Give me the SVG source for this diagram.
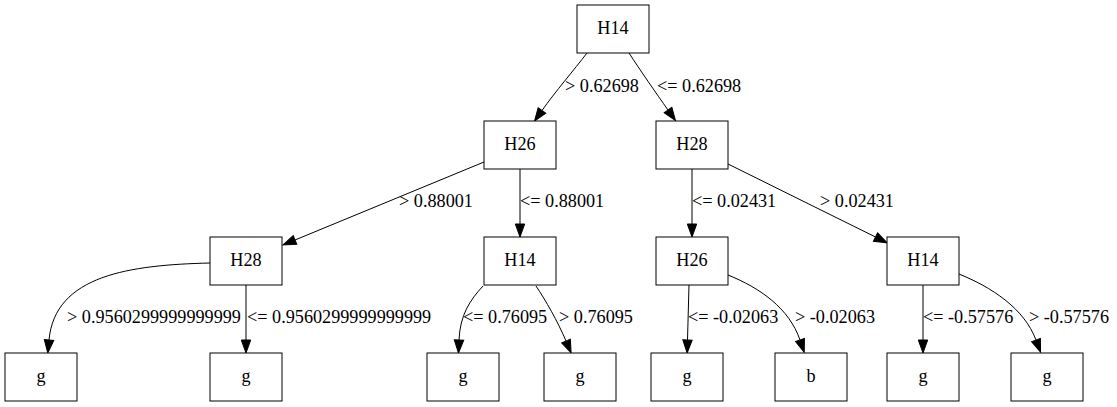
<svg xmlns="http://www.w3.org/2000/svg" width="1117" height="407" viewBox="0 0 1117 407">
<style>
.n rect{fill:#fff;stroke:#000;stroke-width:1}
text{font-family:'Liberation Serif','Times New Roman',Times,serif;font-size:18.2px;fill:#000}
.n text{text-anchor:middle}
.e path{fill:none;stroke:#000;stroke-width:1;marker-end:url(#arr)}
</style>
<defs>
<marker id="arr" markerUnits="userSpaceOnUse" markerWidth="13" markerHeight="9.4" viewBox="0 0 13 9.4" refX="0" refY="4.7" orient="auto" overflow="visible">
<path d="M0,0 L13,4.7 L0,9.4 Z" fill="#000" stroke="#000" stroke-width="1"/>
</marker>
</defs>
<rect width="1117" height="407" fill="#fff"/>
<g id="edges" class="e">
<path d="M587,53 C574,70 555,92 542,110.5"/>
<path d="M629,53 C640,70 656,93 668,110"/>
<path d="M484,162 L295,240"/>
<path d="M520,169 L520,224"/>
<path d="M692,169 L692,224"/>
<path d="M728,164 L875.5,237"/>
<path d="M210,263 C130,265 55,275 49,340"/>
<path d="M246,285 L246,340"/>
<path d="M483,286 C470,300 460,315 459,340"/>
<path d="M536,286 C546,301 557,320 566,341"/>
<path d="M689,285 L687.5,340"/>
<path d="M728,275 C760,288 789,308 800,340"/>
<path d="M923,285 L923,340"/>
<path d="M959,274 C991,287 1024,308 1036,340"/>
</g>
<g id="edge-labels">
<text x="565" y="92">&gt; 0.62698</text>
<text x="657" y="92">&lt;= 0.62698</text>
<text x="399" y="207">&gt; 0.88001</text>
<text x="520" y="207">&lt;= 0.88001</text>
<text x="692" y="207">&lt;= 0.02431</text>
<text x="820" y="207">&gt; 0.02431</text>
<text x="67" y="323">&gt; 0.9560299999999999</text>
<text x="247" y="323">&lt;= 0.9560299999999999</text>
<text x="463" y="323">&lt;= 0.76095</text>
<text x="559" y="323">&gt; 0.76095</text>
<text x="688" y="323">&lt;= -0.02063</text>
<text x="795" y="323">&gt; -0.02063</text>
<text x="923" y="323">&lt;= -0.57576</text>
<text x="1029" y="323">&gt; -0.57576</text>
</g>
<g id="n0" class="n"><rect x="577" y="5" width="72" height="48"/><text x="613" y="33.5">H14</text></g>
<g id="n1" class="n"><rect x="484" y="121" width="72" height="48"/><text x="520" y="149.5">H26</text></g>
<g id="n2" class="n"><rect x="656" y="121" width="72" height="48"/><text x="692" y="149.5">H28</text></g>
<g id="n3" class="n"><rect x="210" y="237" width="72" height="48"/><text x="246" y="265.5">H28</text></g>
<g id="n4" class="n"><rect x="484" y="237" width="72" height="48"/><text x="520" y="265.5">H14</text></g>
<g id="n5" class="n"><rect x="656" y="237" width="72" height="48"/><text x="692" y="265.5">H26</text></g>
<g id="n6" class="n"><rect x="887" y="237" width="72" height="48"/><text x="923" y="265.5">H14</text></g>
<g id="n7" class="n"><rect x="5" y="353" width="72" height="48"/><text x="41" y="381.5">g</text></g>
<g id="n8" class="n"><rect x="210" y="353" width="72" height="48"/><text x="246" y="381.5">g</text></g>
<g id="n9" class="n"><rect x="427" y="353" width="72" height="48"/><text x="463" y="381.5">g</text></g>
<g id="n10" class="n"><rect x="544" y="353" width="72" height="48"/><text x="580" y="381.5">g</text></g>
<g id="n11" class="n"><rect x="651" y="353" width="72" height="48"/><text x="687" y="381.5">g</text></g>
<g id="n12" class="n"><rect x="775" y="353" width="72" height="48"/><text x="811" y="381.5">b</text></g>
<g id="n13" class="n"><rect x="887" y="353" width="72" height="48"/><text x="923" y="381.5">g</text></g>
<g id="n14" class="n"><rect x="1011" y="353" width="72" height="48"/><text x="1047" y="381.5">g</text></g>
</svg>
